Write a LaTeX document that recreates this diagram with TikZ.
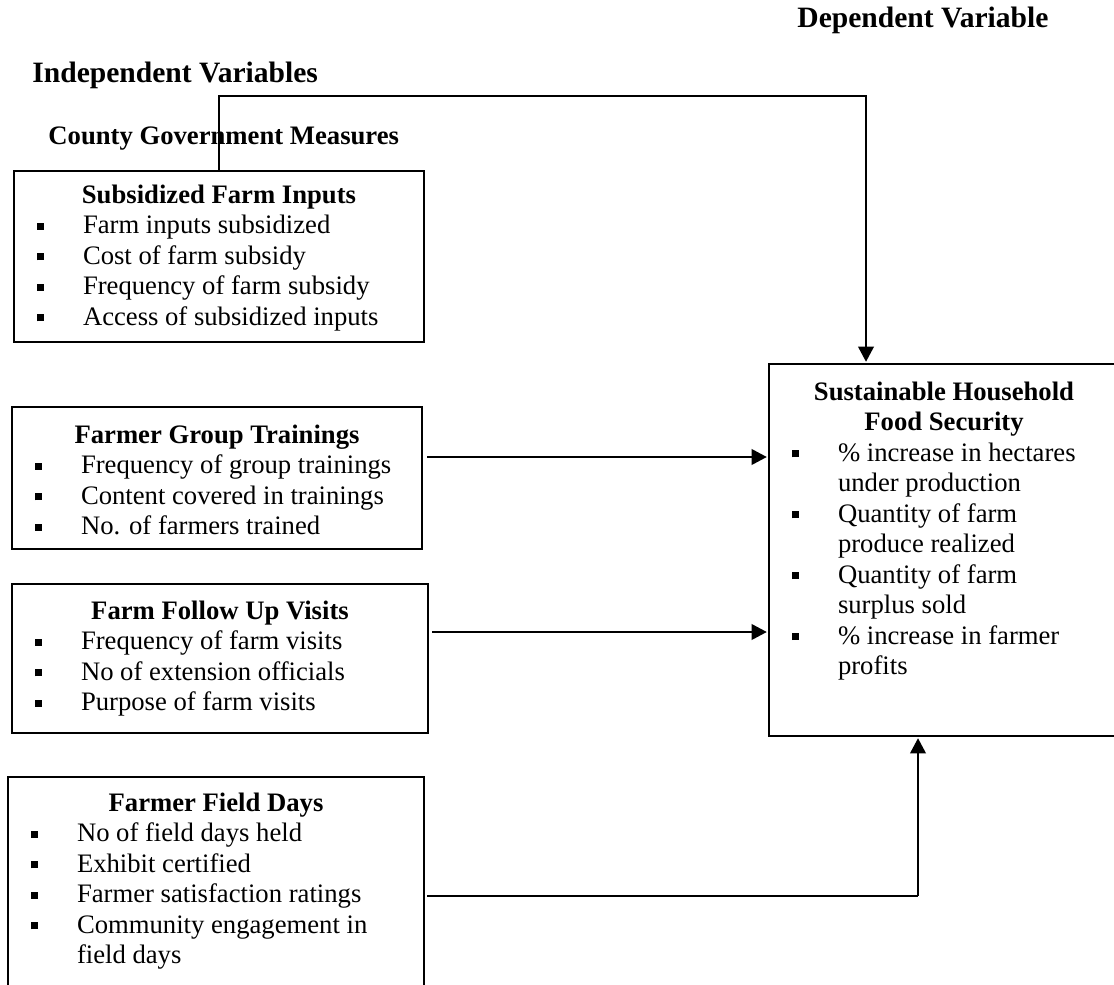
\documentclass[tikz,border=0pt]{standalone}
\usepackage{fontspec}
\setmainfont{Liberation Serif}
\usetikzlibrary{positioning,arrows.meta,calc}
\newlength\px
\setlength\px{0.45pt}
% one bulleted measure, wrapped lines hang under the text
\newcommand\itm[1]{\par\hangindent=69\px\hangafter=1\noindent\makebox[69\px][l]{\hspace*{23\px}\raisebox{4\px}{\rule{7\px}{7\px}}}#1}
\newcommand\boxttl[1]{{\centering\bfseries #1\par}}
\newcommand\boxbody[4]{\parbox[c][#2\px][t]{#1\px}{\raggedright\vspace*{#3\px}#4}}
\tikzset{
  varbox/.style={draw, line width=0.9pt, inner sep=0pt, outer sep=0pt, anchor=north west, font=\fontsize{12}{13.7}\selectfont},
  heading/.style={inner sep=0pt, anchor=base west, font=\fontsize{13.3}{15}\selectfont\bfseries},
  subheading/.style={inner sep=0pt, anchor=base west, font=\fontsize{12}{13.7}\selectfont\bfseries},
  arrow/.style={-{Triangle[length=6.8pt,width=7pt]}, line width=0.9pt, shorten >=1pt},
  link/.style={line width=0.5pt}
}
\begin{document}
\begin{tikzpicture}[x=0.45pt,y=-0.45pt]
  \useasboundingbox (0,0) rectangle (1114,984);
  \clip (0,0) rectangle (1114,984);
  \node[heading] (dep) at (797,28) {Dependent Variable};
  \node[heading] (indep) at (32,83) {Independent Variables};
  \node[subheading] (county) at (48,145) {County Government Measures};
  \node[varbox] (sfi) at (14,171) {\boxbody{410}{171}{14}{\boxttl{Subsidized Farm Inputs}\itm{Farm inputs subsidized}\itm{Cost of farm subsidy}\itm{Frequency of farm subsidy}\itm{Access of subsidized inputs}}};
  \node[varbox] (fgt) at (12,407) {\boxbody{410}{142}{18}{\boxttl{Farmer Group Trainings}\itm{Frequency of group trainings}\itm{Content covered in trainings}\itm{No. of farmers trained}}};
  \node[varbox] (ffv) at (12,584) {\boxbody{416}{149}{17}{\boxttl{Farm Follow Up Visits}\itm{Frequency of farm visits}\itm{No of extension officials}\itm{Purpose of farm visits}}};
  \node[varbox] (ffd) at (8,777) {\boxbody{416}{209}{16}{\boxttl{Farmer Field Days}\itm{No of field days held}\itm{Exhibit certified}\itm{Farmer satisfaction ratings}\itm{Community engagement in\newline field days}}};
  \node[varbox] (dv) at (769,364) {\boxbody{350}{372}{18}{\boxttl{Sustainable Household\\Food Security}\itm{\% increase in hectares\newline under production}\itm{Quantity of farm\newline produce realized}\itm{Quantity of farm\newline surplus sold}\itm{\% increase in farmer\newline profits}}};
  \coordinate (bend) at (866,96);
  \coordinate (fgtout) at ($(fgt.east)+(5,-21)$);
  \coordinate (ffvout) at ($(ffv.east)+(4,-26.5)$);
  \coordinate (ffdout) at ($(ffd.east)+(3,14.5)$);
  \coordinate (ffdin) at ($(dv.south)+(-26,0)$);
  \draw[arrow] (sfi.north) |- (bend) -- (bend |- dv.north);
  \draw[arrow] (fgtout) -- (fgtout -| dv.west);
  \draw[arrow] (ffvout) -- (ffvout -| dv.west);
  \draw[link] (ffdout) -- (ffdout -| ffdin);
  \draw[arrow] (ffdout -| ffdin) -- (ffdin);
\end{tikzpicture}
\end{document}
